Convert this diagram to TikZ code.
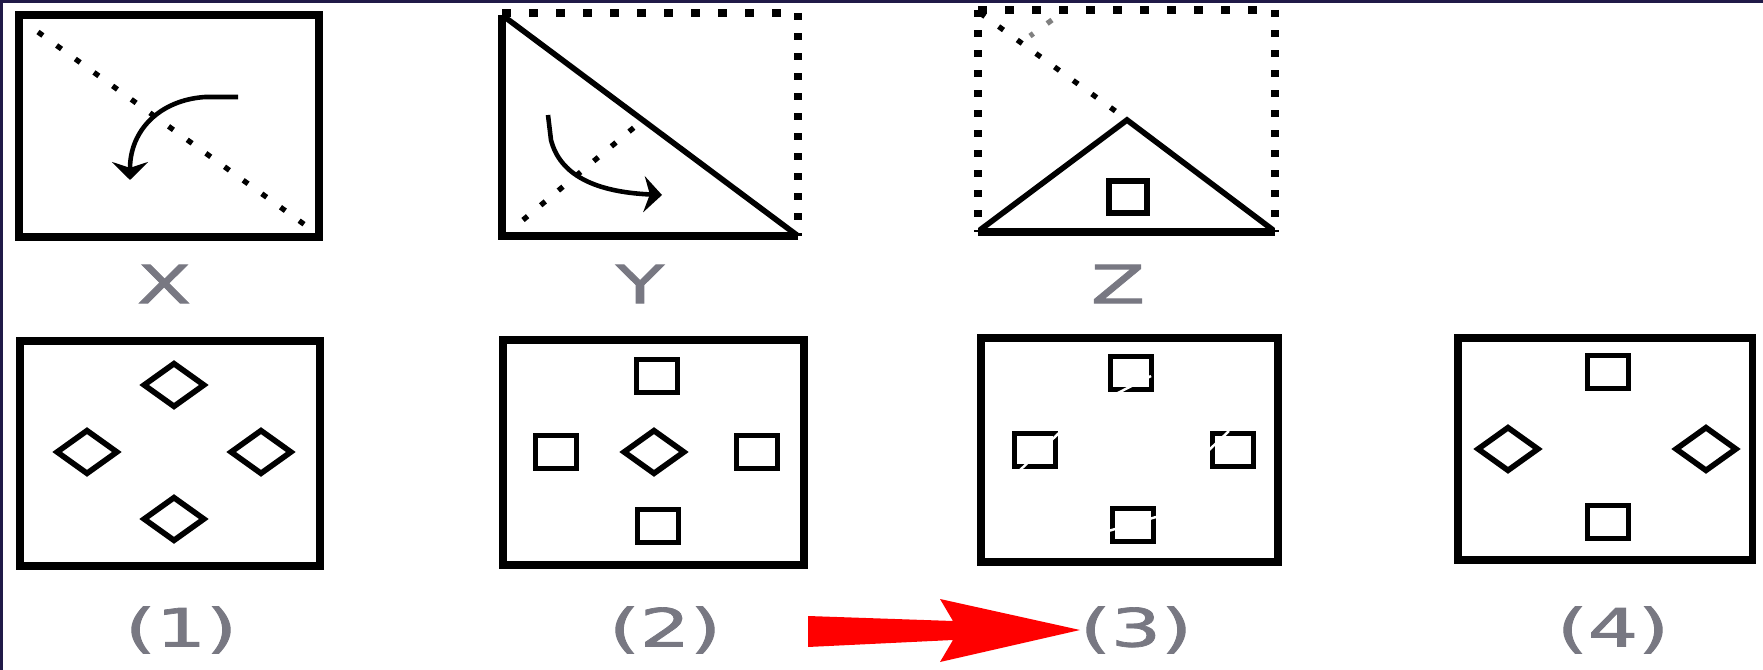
\documentclass[tikz,border=0pt]{standalone}
\usepackage{fontspec}
\newfontfamily\lblfont[FakeBold=1.3]{DejaVu Sans}
\usepackage{tikz}
\usetikzlibrary{shapes.geometric,arrows.meta,positioning}
\definecolor{framenavy}{RGB}{32,26,72}
\definecolor{lblgray}{RGB}{120,120,130}
\definecolor{markred}{RGB}{255,0,0}
\tikzset{
  boxline/.style={line width=2pt},
  foldline/.style={line width=1.6pt},
  dotline/.style={line width=1.5pt, dash pattern=on 0.06cm off 0.17cm},
  hdots/.style={line width=2pt, dash pattern=on 0.09cm off 0.18cm},
  vdots/.style={line width=2pt, dash pattern=on 0.07cm off 0.13cm},
  turn/.style={line width=1.3pt, -{Stealth[length=0.18cm,width=0.36cm]}},
  sq/.style={draw, line width=1.6pt, minimum width=0.41cm, minimum height=0.33cm, inner sep=0pt},
  dia/.style={draw, diamond, line width=1.6pt, minimum width=0.62cm, minimum height=0.45cm, inner sep=0pt},
  slash/.style={white, line width=0.7pt},
  lbl/.style={font=\lblfont\fontsize{15}{17}\selectfont, text=lblgray, xscale=1.5}
}

\begin{document}
\begin{tikzpicture}[x=0.01cm, y=-0.01cm]
\useasboundingbox (0,0) rectangle (1763,670);
\fill[framenavy] (0,0) rectangle (1763,3);
\fill[framenavy] (0,0) rectangle (3,670);

% question figures
\draw[boxline] (19,15) rectangle (319,237);
\draw[dotline] (38,32) -- (312,230);
\draw[turn] (238,97) -- (205,97) .. controls (160,100) and (130,130) .. (130,180);
\node[lbl] (labX) at (164,284) {X};

\draw[hdots] (502,13) -- (798,13);
\draw[vdots] (798,13) -- (798,236);
\draw[boxline] (798,236) -- (502,236) -- (502,15);
\draw[foldline] (502,15) -- (798,236);
\draw[dotline] (523,220) -- (643,120);
\draw[turn] (548,115) -- (551,140) .. controls (560,175) and (595,192) .. (662,195);
\node[lbl] (labY) at (640,284) {Y};

\draw[hdots] (978,10) -- (1275,10);
\draw[vdots] (978,10) -- (978,232);
\draw[vdots] (1275,10) -- (1275,232);
\draw[boxline] (978,232) -- (1275,232);
\draw[dotline] (980,13) -- (1125,118);
\draw[dotline, gray] (1052,20) -- (1030,36);
\draw[foldline] (980,230) -- (1127,120) -- (1273,230);
\node[sq, minimum width=0.38cm, minimum height=0.32cm] (zsq) at (1128,197) {};
\node[lbl] (labZ) at (1118,284) {Z};

% answer figures
\foreach \bx/\by/\ex/\ey in {20/341/320/566, 503/340/804/565, 981/338/1278/562, 1458/338/1752/560}
  \draw[boxline] (\bx,\by) rectangle (\ex,\ey);

\node[dia] (a1t) at (174,385) {};
\node[dia] (a1l) at (87,452) {};
\node[dia] (a1r) at (261,452) {};
\node[dia] (a1b) at (174,519) {};

\node[sq] (a2t) at (657,376) {};
\node[sq] (a2l) at (556,452) {};
\node[dia] (a2c) at (654,452) {};
\node[sq] (a2r) at (757,452) {};
\node[sq] (a2b) at (658,526) {};

\node[sq] (a3t) at (1131,373) {};
\node[sq] (a3l) at (1035,450) {};
\node[sq] (a3r) at (1233,450) {};
\node[sq] (a3b) at (1133,525) {};
\draw[slash] (1114,395) -- (1151,376);
\draw[slash] (1018,472) -- (1059,433);
\draw[slash] (1209,450) -- (1229,431);
\draw[slash] (1105,532) -- (1156,517);

\node[sq] (a4t) at (1608,372) {};
\node[dia] (a4l) at (1508,449) {};
\node[dia] (a4r) at (1706,449) {};
\node[sq] (a4b) at (1608,522) {};

\foreach \lx [count=\i from 1] in {181,665,1136,1613}
  \node[lbl] (opt\i) at (\lx,630) {(\i)};

% pointer to the answer
\coordinate (tip) at (1080,630);
\fill[markred] (808,616) -- (953,621) -- (940,599) -- (tip) -- (940,662) -- (953,640) -- (808,647) -- cycle;
\end{tikzpicture}
\end{document}
